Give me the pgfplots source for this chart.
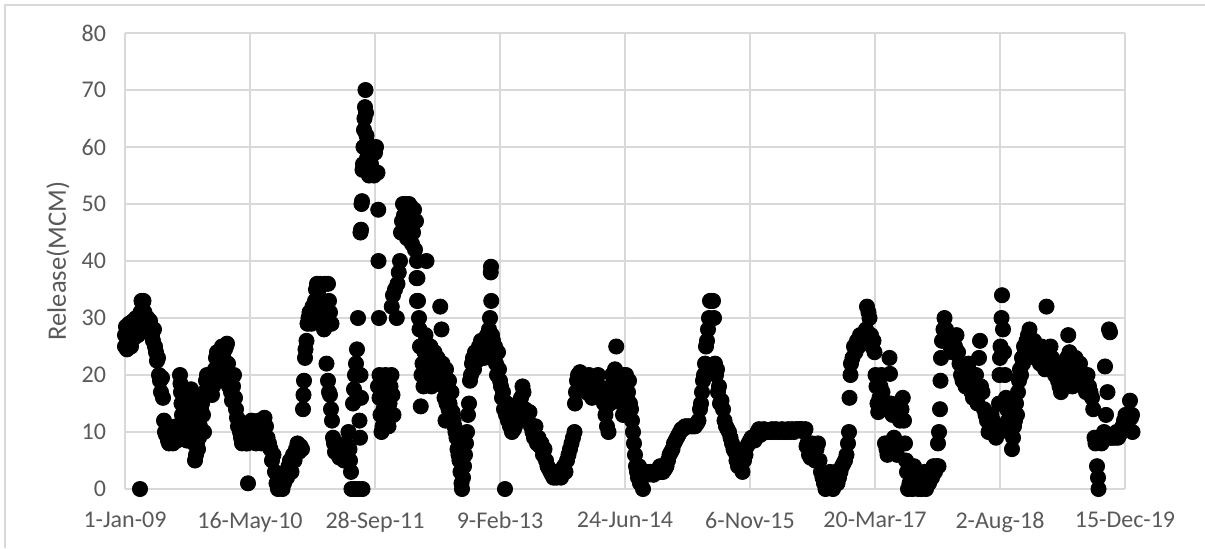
\documentclass[border=0pt]{standalone}
\usepackage{pgfplots}
\pgfplotsset{compat=1.18}
\usepackage{fontspec}
\setmainfont{Carlito}
\definecolor{gridgray}{HTML}{D9D9D9}
\definecolor{textgray}{HTML}{595959}
\begin{document}
\begin{tikzpicture}
\useasboundingbox (-62.5pt,-29.5pt) rectangle (540pt,244.5pt);
\draw[gridgray, line width=0.75pt] (-60pt,-29.5pt) -- (-60pt,242pt) -- (540pt,242pt);
\begin{axis}[
  at={(0,0)}, anchor=south west,
  width=500pt, height=228pt, scale only axis,
  xmin=0, xmax=4000, ymin=0, ymax=80,
  xtick={0,500,...,4000},
  xticklabels={1-Jan-09,16-May-10,28-Sep-11,9-Feb-13,24-Jun-14,6-Nov-15,20-Mar-17,2-Aug-18,15-Dec-19},
  ytick={0,10,...,80},
  /pgf/number format/assume math mode=true,
  grid=major,
  major grid style={gridgray, line width=0.75pt},
  axis lines*=left,
  axis line style={gridgray, line width=0.75pt},
  major tick length=0pt,
  tick label style={font=\fontsize{12}{14}\selectfont, text=textgray},
  yticklabel style={xshift=-6pt},
  xticklabel style={yshift=-8pt},
  clip=false,
]
\addplot[only marks, mark=*, mark size=3.8pt, black] coordinates {
(0,27)(0,25)(4,28.5)(8,24.5)(12,26)(16,29)(20,27.5)(24,25)(28,28)(32,29.5)(36,26.5)(40,28)(44,30)(48,29)(52,27)(56,30)(60,0)
(62,31)(66,33)(70,32.5)(74,33)(78,31)(82,30)(86,29.5)(90,30)(95,29)(100,29.5)(104,28)
(108,27)(112,26)(116,28)(120,25)(124,24)(128,22.5)(132,23)(136,20)(140,19)
(144,17)(148,19.5)(152,16)(156,12)(160,10)(164,9.5)(168,11)(172,8.5)(176,8)(180,9)(184,10)(188,9.5)
(192,8)(196,9)(200,10)(204,11)(208,8.5)(212,9)(216,10)(220,20)(222,18.5)(224,17)(226,15)(228,13)(232,11)(236,9)(240,10)(244,9)(248,8.5)(252,10)(256,12)(260,14)
(264,17.5)(268,16)(272,13)(276,8)(280,5)(284,6)(288,8)(292,7)(296,9)(300,11)(304,14)(308,15)(312,13)(316,10)
(320,17)(324,19)(328,20)(332,18)(336,17)(340,20)(344,19)(348,16.5)(352,18)(356,20)(360,21)(364,23)(368,24)(372,22)(376,19)(380,20)(384,24)(388,25)(392,23.5)(396,21)(400,24.5)(404,25)(408,25.5)(412,22)(416,18)(420,20)(424,17)(428,15.5)(432,18)(436,20)(440,16)
(444,14)(448,12.5)(452,11)(456,12)(460,10)(464,9)(468,8)(472,9.5)(476,11)(480,10)(484,8)(492,1)(490,8)(494,9)(498,11)
(500,10)(506,12)(512,11)(518,9)(524,8)(530,9.5)(536,12)(540,11)(546,8)(552,10)(558,12.5)(564,11)(570,9)(576,8)(582,7)(588,5)(594,6)(600,3)
(606,1)(612,0)(618,0.5)(624,2)(630,0)(636,1)(642,3)(648,2)(654,4)(660,5)(666,3)(672,6)(678,5)(684,7)(690,8)(696,6.5)(702,7.5)(708,7)
(712,14)(714,16.5)(716,19)(720,23)(722,24.5)(726,26)(730,29)(734,30)(738,31)(742,30)(746,29)(750,32)(754,31)
(760,33)(764,35)(768,36)(772,34.5)(776,32)(780,36)(784,33)(788,30)(792,31)(796,28)(800,36)(804,32)(808,30)(812,36)(816,33)(820,31)(826,29)
(806,22)(812,19)(816,17)(820,16.5)(824,14)(828,12)(832,9)(836,8)(840,6.5)
(846,7)(852,6)(858,5.5)(864,7)(870,6)(876,5)(882,8)(888,6.5)(894,10)(898,7)(900,5)(904,3)
(906,0)(920,0)(935,0)(950,0)
(912,15)(916,17.5)(920,20)(924,22)(928,24.5)(932,30)(938,12)(940,9)(942,20)(944,16)
(942,45)(944,45.5)(946,50)(948,50.5)(950,56)(952,57)(954,60)(956,63)(958,65)(960,67)(962,70)(964,66)(966,62)(968,58)(970,56)(972,60)(974,57)(976,55)(980,59)(984,57)(988,60)(992,56)(996,55)(1000,59)(1004,60)(1010,55.5)
(1013,49)(1014,40)(1016,30)(1018,20)
(1012,18)(1018,16)(1022,13)(1026,10)(1030,11)(1034,14)(1038,17)(1042,20)(1046,16)(1050,12)(1054,11)(1058,15)(1062,18)(1066,20)(1070,16.5)(1074,13)
(1067,32)(1072,34)(1080,35)(1087,30)(1090,36)(1095,38)(1100,40)(1104,45)(1108,47)(1112,50)(1116,48)(1120,46)(1124,50)(1128,44)(1132,48)(1136,50)(1140,46)(1144,49.5)(1148,43)(1152,45)(1156,49)(1160,42)(1164,47)(1166,37)(1168,33)(1168,40)
(1170,37)(1172,33)(1176,30)(1178,28)(1180,25)(1183,14.5)(1186,20)(1190,22)(1194,18)(1198,24)(1202,27)(1206,40)(1210,21)(1214,23)(1218,20)(1222,25)(1226,18)(1230,22)(1234,20)(1238,24)(1242,21)(1246,19)(1250,23)(1254,20)(1261,32)(1266,28)(1270,22)(1274,18)(1278,16)(1282,12)(1284,21)(1286,15)(1290,16)(1294,14)(1296,19)(1298,15)(1302,14)(1306,17)(1306,13)(1310,13.5)(1314,12)(1318,11)(1322,10)(1326,9)(1330,7)(1334,6)(1338,5)(1342,3)(1346,1)(1348,0)
(1352,2)(1356,4)(1360,6)(1364,8)(1368,10)(1372,13)(1376,15)(1380,19)(1384,20)(1388,22)(1392,23)(1396,21)(1400,24)(1404,23)(1408,22.5)(1412,24)(1416,25)(1420,23)(1424,26)(1428,24)(1432,25)(1436,23)(1440,26)(1444,24)(1448,27)(1452,25)(1456,28)(1460,30)(1463,38)(1464,39)(1465,33)(1468,27)(1472,26)(1476,24)(1480,25)(1484,22)(1488,20)(1492,24)(1496,21)(1500,19)(1504,18)(1508,16)(1512,17)(1516,14)(1520,0)(1524,13)(1528,15)(1532,12)(1536,14)(1540,11)(1544,13)(1548,10)(1552,12)(1556,10.5)(1560,11)(1566,13)(1572,12)(1578,15)(1584,16)(1590,18)(1594,17)(1600,14)(1606,13)(1612,12)(1618,13.5)(1624,11)(1630,10)(1636,9)(1642,11)(1648,8)(1654,9)(1660,7.5)(1666,8)(1672,6)(1678,7)(1684,5)(1690,4)(1696,3.5)(1702,3)(1708,2.5)(1714,2)(1720,3)(1726,2)(1732,2.5)(1738,3)(1744,2)(1750,3.5)(1756,4)(1762,3)(1768,5)(1774,6)(1780,7)(1786,8)(1792,9)(1798,10)
(1800,15)(1804,17)(1808,19)(1812,20)(1816,19)(1820,20.5)(1826,19)(1832,20)(1838,18)(1844,17)(1850,19.5)(1856,20)(1862,18)(1868,16)(1874,17.5)(1880,19)(1886,17)(1892,20)(1898,18)(1904,16)(1910,17)(1916,15)(1922,13)(1928,11)(1934,10)(1940,15)(1944,18)(1948,20)(1952,17)(1956,19)(1960,21)(1965,25)(1968,19)(1972,16)(1976,18)(1980,20)(1984,17)(1988,15)(1992,13)(1996,20)(2000,18)(2004,20)(2008,16)(2012,17)(2016,19)(2020,15)(2024,14)(2028,12)(2032,10)(2036,8)(2040,6)(2044,4)(2048,3)(2052,2)(2056,4)(2060,1)(2066,3)(2072,0)(2078,3)(2084,3)(2090,2.5)(2096,3)(2102,3)(2108,3)(2114,2.5)(2120,3)(2126,3)(2132,3)(2140,4)(2146,3)(2152,3)(2160,3.5)(2166,4)(2172,5)(2178,6)(2184,6.5)(2190,7)(2196,8)(2202,8.5)(2208,9)(2214,9.5)(2220,10)(2226,10.5)(2232,10.5)(2240,11)(2248,11)(2256,11)(2264,11)(2272,11)(2280,11)(2288,11.5)(2294,12)
(2300,14)(2304,15)(2308,17)(2312,19)(2316,20)(2320,22)(2324,25)(2328,26)(2332,28)(2336,30)(2340,33)(2346,33)(2352,33)(2356,30)(2360,22)(2364,20)(2368,21)(2372,17)(2376,18)(2380,15)(2386,15.5)(2392,14)(2398,12)(2404,11)(2410,10.5)(2416,10)(2422,9)(2428,8)(2434,7)(2440,6.5)(2446,5)(2452,4)(2458,5.5)(2464,4)(2470,3)(2476,5)(2482,6)(2488,7.5)(2494,8)
(2500,8.5)(2506,9)(2512,9)(2518,8.5)(2524,9)(2530,10)(2536,10.5)(2542,9.5)(2548,10)(2556,10.5)(2564,10)(2572,10)(2580,10)(2588,10.5)(2596,10)(2604,10.5)(2612,10)(2620,10)(2628,10.5)(2636,10)(2644,10)(2652,10.5)(2660,10)(2668,10.5)(2676,10)(2684,10.5)(2692,10.5)(2700,10.5)(2708,10.5)(2716,10)(2722,10.5)(2726,7.5)(2730,8)(2736,6)(2742,5.5)(2748,8)(2754,6)(2760,5)(2766,7)(2772,8)(2778,5)(2784,3)(2790,2)(2796,1)(2802,0)(2808,0.5)(2814,2)(2820,3)(2826,1)(2832,0)(2838,2)(2844,3)(2850,1)(2856,2)(2862,3)(2868,4)(2874,4.5)(2880,5)(2886,6)(2892,8)(2896,10)
(2898,16)(2902,20)(2904,22)(2910,23)(2916,25)(2922,24)(2928,26)(2934,25)(2940,27)(2946,26)(2952,27)(2958,26)(2964,28)(2968,32)(2974,31)(2978,30)(2984,27)(2988,25)(2994,26)(2998,24)(3002,20)(3006,18)(3010,15)(3013,13.5)(3018,16)(3022,18)(3026,20)(3030,17)(3036,14)(3040,8)(3046,7)(3050,6)(3054,8)(3058,23)(3060,20.2)(3064,15)(3070,13)(3076,9)(3082,7)(3088,6)(3094,8)(3100,12)(3106,14)(3111,16)(3116,12)(3120,8)(3124,5)(3128,3)(3132,0)(3138,1)(3144,2)(3150,0)(3156,4)(3162,3)(3168,1)(3174,0)(3180,2)(3186,0)(3192,1)(3198,3)(3204,0)(3210,2)(3216,1)(3222,3)(3228,2)(3234,4)(3240,3)(3246,4)
(3252,8)(3254,4)(3256,10)(3260,14)(3262,19)(3264,23)(3268,26)(3274,28)(3278,30)(3284,28)(3290,26)(3296,27)(3302,25)(3308,24)(3314,26)(3320,25)(3326,27)(3332,24)(3338,22)(3344,20)(3350,19)(3356,21)(3362,18)(3368,20)(3374,22)(3380,19)(3386,17)(3392,16)(3398,18)(3404,20)(3410,15)(3416,23)(3420,26)(3424,18)(3430,17)(3436,14)(3442,13)(3448,12)(3454,10)(3460,11)(3466,13)(3472,12)(3478,10)(3484,9)(3490,11)(3496,15)(3498,20)(3500,23)(3502,25)(3506,30)(3508,34)(3512,28)(3516,24)(3520,20)(3524,16)(3528,14)(3532,12)(3536,10)(3540,11)(3548,7)(3552,9)(3556,11)(3560,12)(3564,15)(3568,13)(3572,17)(3576,19)(3580,21)(3584,20)(3588,23)(3592,22)(3596,25)
(3600,24)(3606,26)(3612,27)(3618,28)(3624,25)(3630,24)(3636,26)(3642,23)(3648,25)(3654,24)(3660,22)(3666,25)(3672,23)(3680,21)(3686,32)(3690,24)(3696,22)(3702,25)(3708,23)(3714,21)(3720,20)(3726,22)(3732,19)(3738,18)(3744,17)(3750,20)(3756,21)(3762,19)(3768,23)(3773,27)(3778,24)(3784,22)(3790,18)(3796,20)(3802,23)(3808,21)(3814,19)(3820,22)(3826,20)(3832,18)(3838,19)(3844,17)(3850,20)(3856,18)(3862,17)(3868,16)(3873,14)(3878,9)(3882,8)(3888,4)(3892,2)(3894,0)
(3900,9)(3906,8)(3912,9)(3916,10)(3920,21.5)(3924,13)(3930,17)(3936,28)(3940,27.5)(3942,9)(3948,9)(3954,9.5)(3960,9)(3966,10)(3972,9)(3978,9.5)(3984,10)(3990,11)(3996,12)(4002,13)(4008,11)(4014,12)(4020,15.5)(4024,12.5)(4028,13)(4030,10)
};
\end{axis}
\node[rotate=90, font=\fontsize{13.3}{15}\selectfont, text=textgray] at (-33.5pt,114pt) {Release(MCM)};
\end{tikzpicture}
\end{document}
